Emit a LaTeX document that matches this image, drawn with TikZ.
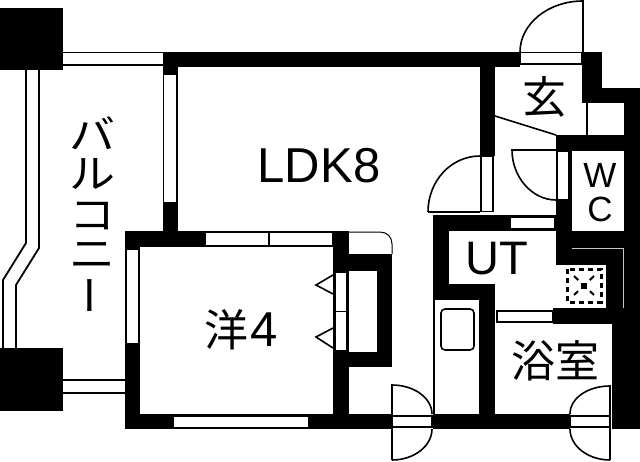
\documentclass[tikz,border=0pt]{standalone}
\usepackage{fontspec}
\setmainfont{Liberation Sans}
\newfontfamily\jpfont{Noto Sans CJK JP}
\tikzset{
    wall/.style={fill=black},
    pane/.style={fill=white,draw=black,line width=1.5pt},
    rail/.style={draw=black,line width=1.8pt},
    leaf/.style={draw=black,line width=1.6pt},
    latin/.style={inner sep=0pt,font=\fontsize{47}{47}\selectfont},
    kana/.style={inner sep=0pt,xscale=1.15,font=\jpfont\fontsize{40}{40}\selectfont},
    kanji/.style={inner sep=0pt,font=\jpfont\fontsize{44}{44}\selectfont}
}
\begin{document}
\begin{tikzpicture}[x=1pt,y=-1pt]
    \useasboundingbox (0,0) rectangle (640,461);

    % columns
    \fill[wall] (0,8) rectangle (63,70);
    \fill[wall] (0,348) rectangle (63,411);

    % balcony rails
    \draw[rail] (63,52.5) -- (163,52.5); \draw[rail] (63,65) -- (163,65);
    \draw[rail] (63,380) -- (125,380); \draw[rail] (63,393) -- (125,393);
    \draw[rail] (26,70) -- (26,243) -- (3,280) -- (3,348);
    \draw[rail] (39,70) -- (39,248) -- (16,285) -- (16,348);

    % outer and inner walls
    \fill[wall] (163,52) rectangle (520,67);
    \fill[wall] (163,52) rectangle (178,232);
    \fill[wall] (125,231) rectangle (349,247);
    \fill[wall] (125,231) rectangle (140,429);
    \fill[wall] (125,414) rectangle (392,429);
    \fill[wall] (333,232) rectangle (349,414);
    \fill[wall] (349,254) rectangle (392,271);
    \fill[wall] (377,254) rectangle (392,367);
    \fill[wall] (349,352) rectangle (392,367);
    \fill[wall] (480,52) rectangle (495,156);
    \fill[wall] (582,52) rectangle (602,103);
    \fill[wall] (586,67) rectangle (602,103);
    \fill[wall] (586,88) rectangle (640,103);
    \fill[wall] (586,103) rectangle (588,135);
    \fill[wall] (624,88) rectangle (640,429);
    \fill[wall] (556,135) rectangle (640,151);
    \fill[wall] (556,135) rectangle (572,265);
    \fill[wall] (556,231) rectangle (640,265);
    \fill[wall] (606,231) rectangle (640,308);
    \fill[wall] (553,308) rectangle (640,324);
    \fill[wall] (612,308) rectangle (640,429);
    \fill[wall] (433,215) rectangle (556,231);
    \fill[wall] (433,215) rectangle (449,300);
    \fill[wall] (433,284) rectangle (495,300);
    \fill[wall] (479,284) rectangle (495,429);
    \fill[wall] (433,300) rectangle (435,414);
    \fill[wall] (433,414) rectangle (570,429);
    \draw[draw=gray!45,line width=1pt] (572,248) -- (623,248) -- (623,308);

    % windows
    \draw[pane] (163.5,74) rectangle (177,203);
    \draw[pane] (126,249) rectangle (139,344);
    \draw[pane] (205,232) rectangle (269,246);
    \draw[pane] (269,232) rectangle (333,246);
    \draw[pane] (173,416) rectangle (309,428);
    \draw[pane] (520,52.5) rectangle (582,64);
    \draw[pane] (481,156) rectangle (493,211.5);
    \draw[pane] (557,151) rectangle (569,200);
    \draw[pane] (510,217) rectangle (555,229);
    \draw[pane] (497,311) rectangle (553,322);

    % closet
    \draw[leaf,line width=1pt] (349,232) -- (380,232) .. controls (387,232) and (392,237) .. (392,244) -- (392,254);
    \draw[pane] (335,272) rectangle (347,311.5);
    \draw[pane] (335,311.5) rectangle (347,351);
    \draw[leaf] (333,275) -- (316,285) -- (333,294);
    \draw[leaf] (333,328) -- (316,337) -- (333,348);

    % doors
    \draw[leaf] (520,52) .. controls (520,24) and (548,1) .. (583,1) -- (583,52);
    \draw[leaf] (428,212) .. controls (428,181) and (451,156) .. (480,156);
    \draw[leaf] (428,212) -- (480,212);
    \draw[leaf] (556,200) .. controls (532,200) and (512,177) .. (512,150) -- (556,150);
    \draw[pane] (392,416) rectangle (432,427);
    \draw[leaf] (432,414) .. controls (432,398) and (414,385) .. (392,385) -- (392,460);
    \draw[leaf] (432,429) .. controls (432,446) and (414,460) .. (392,460);
    \draw[pane] (570,416) rectangle (610,427);
    \draw[leaf] (570,414) .. controls (570,398) and (588,386) .. (610,386) -- (610,460);
    \draw[leaf] (570,429) .. controls (570,446) and (588,460) .. (610,460);

    % entry hall step
    \draw[leaf] (495,116) -- (556,135);

    % kitchen
    \draw[leaf,rounded corners=4pt] (441,309) rectangle (474,350);
    \draw[line width=3pt,dash pattern=on 5pt off 4pt] (567,269) rectangle (601,302);
    \fill (581,283) rectangle (587,289);
    \draw[line width=2pt,dash pattern=on 6pt off 5pt] (574,276) -- (594,295);
    \draw[line width=2pt,dash pattern=on 6pt off 5pt] (594,276) -- (574,295);

    % room names
    \node[kana] (balc1) at (92,133) {バ};
    \node[kana] (balc2) at (92,174) {ル};
    \node[kana] (balc3) at (92,216) {コ};
    \node[kana] (balc4) at (92,255) {ニ};
    \node[kana,rotate=90,xscale=1] (balc5) at (98,295) {ー};
    \node[latin,font=\fontsize{49}{49}\selectfont] (ldk) at (319,166) {LDK8};
    \node[latin] (ut) at (497,259) {UT};
    \node[kanji] (hall) at (544,97) {玄};
    \node[latin,font=\fontsize{35}{35}\selectfont] (w) at (600,175) {W};
    \node[latin,font=\fontsize{35}{35}\selectfont] (c) at (600,209) {C};
    \node[kanji] (west) at (226,330) {洋};
    \node[latin,font=\fontsize{49}{49}\selectfont] (four) at (264,330) {4};
    \node[kanji] (bath) at (555,361) {浴室};
\end{tikzpicture}
\end{document}
